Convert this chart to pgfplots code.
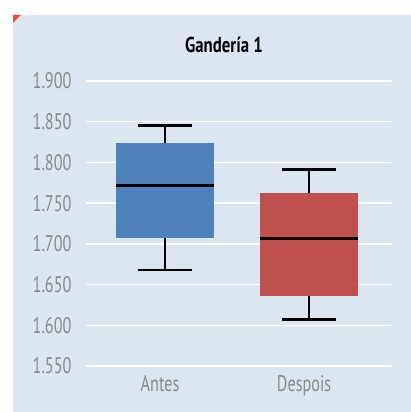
\documentclass[border=0pt]{standalone}
\usepackage{fontspec}
\setmainfont{PT Sans}
\newfontfamily\tickfont[FakeStretch=0.72]{PT Sans}
\newfontfamily\titlefont[FakeStretch=0.78]{PT Sans}
\usepackage{pgfplots}
\pgfplotsset{compat=1.18}
\definecolor{bg}{HTML}{DCE6F1}
\definecolor{boxblue}{HTML}{4F81BD}
\definecolor{boxred}{HTML}{C0504D}
\definecolor{tickgray}{HTML}{8A8A8A}
\definecolor{cornerred}{HTML}{F04A3A}
\begin{document}
\begin{tikzpicture}
\fill[white] (0pt,0pt) rectangle (411pt,412pt);
\fill[bg] (13pt,0pt) rectangle (411pt,397pt);
\fill[cornerred] (13pt,397pt) -- (21pt,397pt) -- (13pt,389pt) -- cycle;
\begin{axis}[
  at={(86pt,46pt)}, anchor=south west,
  scale only axis, width=306pt, height=285pt,
  xmin=-0.549, xmax=1.576,
  ymin=1.55, ymax=1.9,
  ytick={1.55,1.6,1.65,1.7,1.75,1.8,1.85,1.9},
  xtick={0,1}, xticklabels={Antes,Despois},
  ymajorgrids, grid style={white, line width=1.5pt},
  axis line style={draw=none},
  major tick length=0pt,
  clip=false,
  yticklabel style={font=\tickfont\fontsize{22.5}{26}\selectfont, text=tickgray, xshift=-11pt,
    /pgf/number format/fixed, /pgf/number format/fixed zerofill, /pgf/number format/precision=3, /pgf/number format/assume math mode=true},
  xticklabel style={font=\tickfont\fontsize{22.5}{26}\selectfont, text=tickgray, yshift=-6pt, xshift=-5pt},
  whisk/.style={black, line width=2.7pt, mark=none},
]
% Antes: lower whisker 1.668, Q1 1.707, median 1.772, Q3 1.824, upper whisker 1.845
\addplot[fill=boxblue, draw=none, mark=none] coordinates {(-0.34,1.707) (0.34,1.707) (0.34,1.824) (-0.34,1.824)} -- cycle;
\addplot[whisk] coordinates {(-0.34,1.772) (0.34,1.772)};
\addplot[whisk] coordinates {(0,1.824) (0,1.845)};
\addplot[whisk] coordinates {(-0.19,1.845) (0.19,1.845)};
\addplot[whisk] coordinates {(0,1.707) (0,1.668)};
\addplot[whisk] coordinates {(-0.19,1.668) (0.19,1.668)};
% Despois: lower whisker 1.607, Q1 1.636, median 1.707, Q3 1.762, upper whisker 1.791
\addplot[fill=boxred, draw=none, mark=none] coordinates {(0.66,1.636) (1.34,1.636) (1.34,1.762) (0.66,1.762)} -- cycle;
\addplot[whisk] coordinates {(0.66,1.707) (1.34,1.707)};
\addplot[whisk] coordinates {(1,1.762) (1,1.791)};
\addplot[whisk] coordinates {(0.81,1.791) (1.19,1.791)};
\addplot[whisk] coordinates {(1,1.636) (1,1.607)};
\addplot[whisk] coordinates {(0.81,1.607) (1.19,1.607)};
\end{axis}
\node[font=\titlefont\bfseries\fontsize{21.5}{25}\selectfont] at (224pt,367pt) {Gandería 1};
\end{tikzpicture}
\end{document}
